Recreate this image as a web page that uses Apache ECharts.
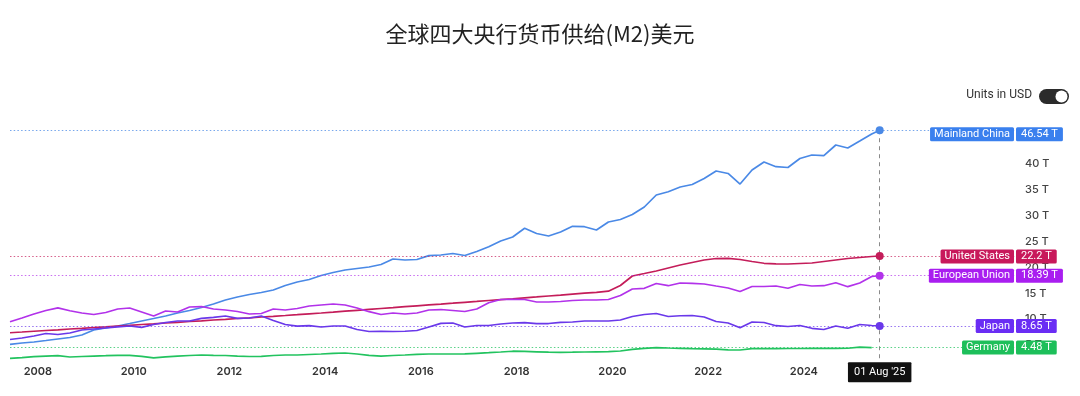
<!DOCTYPE html>
<html><head><meta charset="utf-8">
<script src="https://cdn.jsdelivr.net/npm/echarts@6/dist/echarts.min.js"></script>
<style>html,body{margin:0;padding:0;background:#fff}#c{width:1080px;height:396px}</style>
</head><body><div id="c"></div>
<script>
const titleText = '全球四大央行货币供给(M2)美元';
const toggleText = 'Units in USD';
const dates = ['2007-06','2007-09','2007-12','2008-03','2008-06','2008-09','2008-12','2009-03','2009-06','2009-09',
'2009-12','2010-03','2010-06','2010-09','2010-12','2011-03','2011-06','2011-09','2011-12','2012-03',
'2012-06','2012-09','2012-12','2013-03','2013-06','2013-09','2013-12','2014-03','2014-06','2014-09',
'2014-12','2015-03','2015-06','2015-09','2015-12','2016-03','2016-06','2016-09','2016-12','2017-03',
'2017-06','2017-09','2017-12','2018-03','2018-06','2018-09','2018-12','2019-03','2019-06','2019-09',
'2019-12','2020-03','2020-06','2020-09','2020-12','2021-03','2021-06','2021-09','2021-12','2022-03',
'2022-06','2022-09','2022-12','2023-03','2023-06','2023-09','2023-12','2024-03','2024-06','2024-09',
'2024-12','2025-03','2025-06','2025-08'];
const xTickYears = [2008,2010,2012,2014,2016,2018,2020,2022,2024];
const yTickValues = [5,10,15,20,25,30,35,40,45];
const seriesNames = ['Mainland China','United States','European Union','Japan','Germany'];

const china = [5.11,5.36,5.55,5.84,6.14,6.43,6.91,7.88,8.26,8.65,
9.13,9.62,10.10,10.59,11.17,11.65,12.23,12.91,13.68,14.26,
14.75,15.13,15.62,16.49,17.17,17.65,18.42,19.00,19.49,19.78,
20.07,20.55,21.62,21.42,21.52,22.26,22.39,22.68,22.30,23.07,
24.00,25.10,25.88,27.56,26.55,26.07,26.84,27.95,27.87,27.23,
28.78,29.26,30.23,31.68,34.00,34.64,35.55,36.04,37.20,38.65,
38.17,36.13,38.84,40.39,39.48,39.33,41.07,41.75,41.61,43.68,
43.10,44.45,45.81,46.54];
const us = [7.35,7.49,7.64,7.78,7.92,8.07,8.21,8.36,8.50,8.65,
8.79,8.94,9.08,9.23,9.37,9.52,9.66,9.81,9.95,10.10,
10.24,10.39,10.53,10.68,10.84,11.01,11.17,11.34,11.52,11.69,
11.86,12.04,12.21,12.39,12.56,12.73,12.89,13.06,13.24,13.41,
13.59,13.76,13.93,14.11,14.28,14.46,14.63,14.82,15.00,15.17,
15.39,16.49,18.33,18.81,19.30,19.88,20.46,20.94,21.42,21.71,
21.75,21.52,21.13,20.79,20.69,20.65,20.75,20.84,21.13,21.42,
21.71,21.91,22.10,22.2];
const eu = [9.48,10.20,10.97,11.65,12.17,11.61,11.17,10.88,11.26,11.94,
12.13,11.36,10.59,11.55,11.36,12.33,12.42,11.94,11.75,11.46,
10.97,11.07,11.94,11.75,12.04,12.52,12.72,12.91,12.72,12.13,
11.42,10.88,11.17,10.97,11.17,11.75,11.84,11.65,11.46,11.94,
13.16,13.78,13.82,13.78,13.30,13.30,13.39,13.59,13.68,13.68,
13.78,14.55,15.81,15.95,16.88,16.45,16.97,16.92,16.78,16.39,
16.01,15.33,16.30,16.30,16.39,15.95,16.68,16.39,16.45,17.03,
16.26,16.97,18.23,18.39];
const japan = [6.04,6.33,6.72,7.20,7.01,7.30,7.88,8.07,8.26,8.50,
8.65,8.40,8.94,9.33,9.62,9.62,10.14,10.33,10.59,10.14,
10.20,10.59,9.72,8.94,8.61,8.71,8.46,8.65,8.65,7.97,
7.59,7.63,7.59,7.64,7.78,8.46,9.17,9.23,8.46,8.75,
8.75,9.04,9.23,9.29,9.13,9.13,9.37,9.43,9.62,9.62,
9.62,9.81,10.49,10.88,11.07,10.49,10.64,10.68,10.39,9.52,
9.23,8.30,9.43,9.33,8.71,8.55,8.75,8.21,7.97,8.65,
8.21,8.94,8.75,8.65];
const germany = [2.40,2.55,2.71,2.84,2.90,2.65,2.75,2.84,2.90,2.98,
2.98,2.79,2.50,2.69,2.84,2.94,3.04,2.98,2.94,2.84,
2.75,2.79,2.94,3.04,3.04,3.14,3.23,3.37,3.43,3.23,
2.98,2.84,2.94,3.04,3.17,3.23,3.23,3.23,3.27,3.37,
3.48,3.62,3.77,3.75,3.66,3.58,3.56,3.58,3.62,3.66,
3.68,3.81,4.14,4.34,4.45,4.39,4.34,4.28,4.24,4.16,
4.04,4.01,4.26,4.26,4.26,4.30,4.30,4.34,4.34,4.34,
4.35,4.55,4.48,null];

const lineColors = ['#4a89e6','#c41d5a','#b232ea','#6a38ea','#22c35f'];
const dotLineColors = ['rgba(74,137,230,0.75)','rgba(196,29,90,0.7)','rgba(178,50,234,0.7)','rgba(106,56,234,0.7)','rgba(34,195,95,0.75)'];
const boxColors = ['#3a80ee','#c8195b','#a91ef0','#6a2df4','#1dbf5a'];
const labelDy = [-4, -0.5, 0, 0, 0];
const showDot = [true, true, true, true, false];
const allValues = [china, us, eu, japan, germany];

const Y_MIN = 2, Y_MAX = 47;
const monthNames = ['Jan','Feb','Mar','Apr','May','Jun','Jul','Aug','Sep','Oct','Nov','Dec'];
function toYear(d){ const p = d.split('-').map(Number); return p[0] + (p[1]-1)/12; }
const LATIN = 'Inter, "Noto Sans", sans-serif';
const LABELFONT = 'Roboto, "Noto Sans", sans-serif';

function boxLabel(text, bg, dist, align, dy, pad){
  return { show:true, position:'insideEndTop', distance:[dist, dy], align:align, verticalAlign:'middle',
    formatter:text, color:'#fff', fontSize:11, fontFamily:LABELFONT, lineHeight:12,
    backgroundColor:bg, padding:[1,pad,1,pad], borderRadius:1.5 };
}

const series = allValues.map((vals, k) => {
  let li = vals.length - 1; while (vals[li] == null) li--;
  const lastX = toYear(dates[li]), lastV = vals[li];
  const mlData = [
    { yAxis:lastV, label: boxLabel(seriesNames[k], boxColors[k], 1, 'right', labelDy[k], 4) },
    { yAxis:lastV, lineStyle:{ color:'rgba(0,0,0,0)' }, label: boxLabel(lastV + ' T', boxColors[k], -1, 'left', labelDy[k], 5) }
  ];
  if (k === 0) {
    const dl = dates[dates.length-1].split('-').map(Number);
    const dLabel = "01 " + monthNames[dl[1]-1] + " '" + String(dl[0]).slice(2);
    mlData.push([
      { coord:[lastX, lastV], lineStyle:{color:'#8a8a8a', type:[4,4], width:1},
        label:{show:true, position:'end', distance:2, formatter:dLabel, color:'#fff', fontSize:11,
          fontFamily:LABELFONT, backgroundColor:'#111', padding:[4,6,4,6], lineHeight:12, borderRadius:1} },
      { coord:[lastX, Y_MIN] }
    ]);
  }
  return {
    type:'line', name:seriesNames[k],
    data: dates.map((d,i) => [toYear(d), vals[i]]),
    showSymbol:false, symbol:'none', z:3,
    lineStyle:{ width:1.7, color:lineColors[k] }, itemStyle:{ color:lineColors[k] },
    markLine:{ silent:true, animation:false, symbol:['none','none'],
      lineStyle:{ color:dotLineColors[k], type:[1.5,2.2], width:1 },
      data: mlData },
    markPoint: showDot[k] ? { silent:true, animation:false, symbol:'circle', symbolSize:8,
      itemStyle:{ color:lineColors[k] }, label:{show:false}, data:[{ coord:[lastX, lastV] }] } : undefined
  };
});

const chart = echarts.init(document.getElementById('c'));
chart.setOption({
  animation:false,
  backgroundColor:'#fff',
  title:{ text:titleText, left:'center', top:18,
    textStyle:{ fontSize:22, fontWeight:'normal', color:'#222', fontFamily:'"Noto Sans CJK SC", sans-serif' } },
  grid:{ left:10, right:65, top:127.85, bottom:35.63, containLabel:false, outerBoundsMode:'none' },
  xAxis:{ type:'value', min:toYear(dates[0]), max:2028.41,
    axisLine:{show:false}, axisTick:{show:false}, splitLine:{show:false},
    axisLabel:{ customValues:xTickYears, formatter:v => String(Math.round(v)), margin:6,
      fontSize:11, fontWeight:600, color:'#333', fontFamily:LATIN } },
  yAxis:{ type:'value', position:'right', min:Y_MIN, max:Y_MAX,
    axisLine:{show:false}, axisTick:{show:false}, splitLine:{show:false},
    axisLabel:{ customValues:yTickValues, formatter:v => v + ' T', margin:10,
      fontSize:11, fontWeight:500, color:'#444', fontFamily:LATIN } },
  graphic:[
    { type:'text', right:48, top:89, style:{ text:toggleText, font:'12px Roboto, sans-serif', fill:'#333' } },
    { type:'rect', left:1039, top:89, shape:{ width:30, height:15, r:7.5 }, style:{ fill:'#2b2b2b' } },
    { type:'circle', left:1055.5, top:90.5, shape:{ r:6 }, style:{ fill:'#fff' } }
  ],
  series: series
});
</script></body></html>
